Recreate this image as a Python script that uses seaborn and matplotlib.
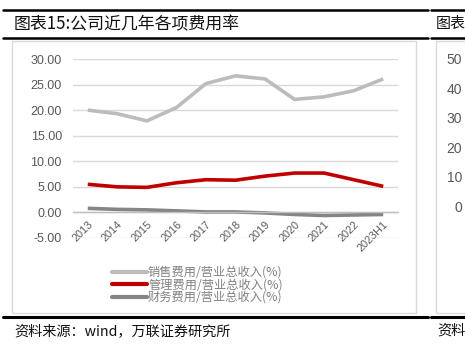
import matplotlib
matplotlib.use("Agg")
import matplotlib.pyplot as plt
import matplotlib.lines as mlines
import matplotlib.patches as mpatches
import numpy as np
import pandas as pd
import seaborn as sns

# ---------------- data ----------------
years = ['2013', '2014', '2015', '2016', '2017', '2018', '2019', '2020', '2021', '2022', '2023H1']
sales_rate = [20.0, 19.3, 17.9, 20.5, 25.2, 26.7, 26.1, 22.1, 22.6, 23.8, 26.1]
admin_rate = [5.5, 5.0, 4.9, 5.8, 6.4, 6.3, 7.1, 7.7, 7.7, 6.4, 5.1]
finance_rate = [0.8, 0.6, 0.5, 0.3, 0.1, 0.1, -0.1, -0.4, -0.6, -0.5, -0.4]
series_names = ['销售费用/营业总收入(%)', '管理费用/营业总收入(%)', '财务费用/营业总收入(%)']
series_colors = ['#bcbcbc', '#c00000', '#858585']
yticks = [-5, 0, 5, 10, 15, 20, 25, 30]
right_ticks = [50, 40, 30, 20, 10, 0]

title_text = '图表15:公司近几年各项费用率'
source_text = '资料来源：wind，万联证券研究所'

# ---------------- figure ----------------
sns.set_theme(style='white')
plt.rcParams['font.family'] = ['Noto Sans CJK SC', 'DejaVu Sans']

W, H = 465, 344
fig = plt.figure(figsize=(W / 100, H / 100), dpi=100)
fig.patch.set_facecolor('white')

def fx(px):
    return px / W

def fy(py):
    return 1 - py / H

# decorative rules / boxes
for (x0, x1) in [(3, 428), (431, 470)]:
    fig.add_artist(mlines.Line2D([fx(x0), fx(x1)], [fy(10), fy(10)], color='black', lw=1.8))
    fig.add_artist(mlines.Line2D([fx(x0), fx(x1)], [fy(38), fy(38)], color='black', lw=1.8))
    fig.add_artist(mlines.Line2D([fx(x0), fx(x1)], [fy(317), fy(317)], color='black', lw=2.2))
fig.add_artist(mpatches.Rectangle((fx(12), fy(312.5)), fx(416 - 12), (312.5 - 41) / H,
                                  fill=False, edgecolor='#d9d9d9', lw=1.0))
fig.add_artist(mpatches.Rectangle((fx(436), fy(312.5)), fx(60), (312.5 - 41) / H,
                                  fill=False, edgecolor='#d9d9d9', lw=1.0))

fig.text(fx(14), fy(24), title_text, fontsize=12.2, color='#111111', ha='left', va='center')
fig.text(fx(436), fy(24), '图表', fontsize=10.8, color='#111111', ha='left', va='center')
fig.text(fx(14), fy(331), source_text, fontsize=10.2, color='#111111', ha='left', va='center',
         style='italic')
fig.text(fx(437), fy(331), '资料', fontsize=10.2, color='#111111', ha='left', va='center',
         style='italic')
for v in right_ticks:
    fig.text(fx(462), fy(208 - v * 2.96), f'{v}', fontsize=10, color='#595959',
             ha='right', va='center', family=['Liberation Sans', 'DejaVu Sans'])

# main axes
ax = fig.add_axes([fx(73), fy(238), fx(398 - 73), (238 - 59) / H])
ax.set_facecolor('none')

df = pd.DataFrame({
    'year': years * 3,
    'value': sales_rate + admin_rate + finance_rate,
    'series': [series_names[0]] * len(years) + [series_names[1]] * len(years) + [series_names[2]] * len(years),
})
sns.lineplot(data=df, x='year', y='value', hue='series', hue_order=series_names,
             palette=dict(zip(series_names, series_colors)), linewidth=2.6,
             sort=False, ax=ax, legend=False)
for ln in ax.get_lines():
    ln.set_solid_capstyle('butt')
    ln.set_solid_joinstyle('round')

ax.set_xlim(-0.5, len(years) - 0.5)
ax.set_ylim(-5, 30)
ax.set_yticks(yticks)
ax.set_yticklabels([f'{v:.2f}' for v in yticks])
ax.yaxis.grid(True, color='#d9d9d9', lw=1.0)
ax.set_axisbelow(True)
ax.set_xlabel('')
ax.set_ylabel('')

for s in ['top', 'right', 'left']:
    ax.spines[s].set_visible(False)
ax.spines['bottom'].set_position(('data', 0))
ax.spines['bottom'].set_color('#bfbfbf')
ax.spines['bottom'].set_linewidth(1.0)

ax.set_xticks(range(len(years)))
ax.set_xticklabels(years, rotation=45, ha='right', va='top', rotation_mode='anchor')
ax.set_xticks(np.arange(-0.5, len(years)), minor=True)
ax.tick_params(axis='x', which='major', length=0, pad=5, labelsize=7.8, labelcolor='#595959')
ax.tick_params(axis='x', which='minor', length=3, width=1.0, color='#bfbfbf', direction='out')
ax.tick_params(axis='y', length=0, pad=8, labelsize=9, labelcolor='#595959')
for lab in ax.get_xticklabels() + ax.get_yticklabels():
    lab.set_family(['Liberation Sans', 'DejaVu Sans'])

# legend
handles = [mlines.Line2D([], [], color=c, lw=3.0, solid_capstyle='round') for c in series_colors]
leg = ax.legend(handles, series_names, loc='upper left', bbox_to_anchor=(fx(112), fy(266)),
                bbox_transform=fig.transFigure, frameon=False, fontsize=8.8,
                handlelength=2.85, handletextpad=0.1, borderpad=0, labelspacing=-0.05,
                borderaxespad=0, labelcolor='#808080')

fig.savefig('out.png', dpi=100, facecolor='white')
